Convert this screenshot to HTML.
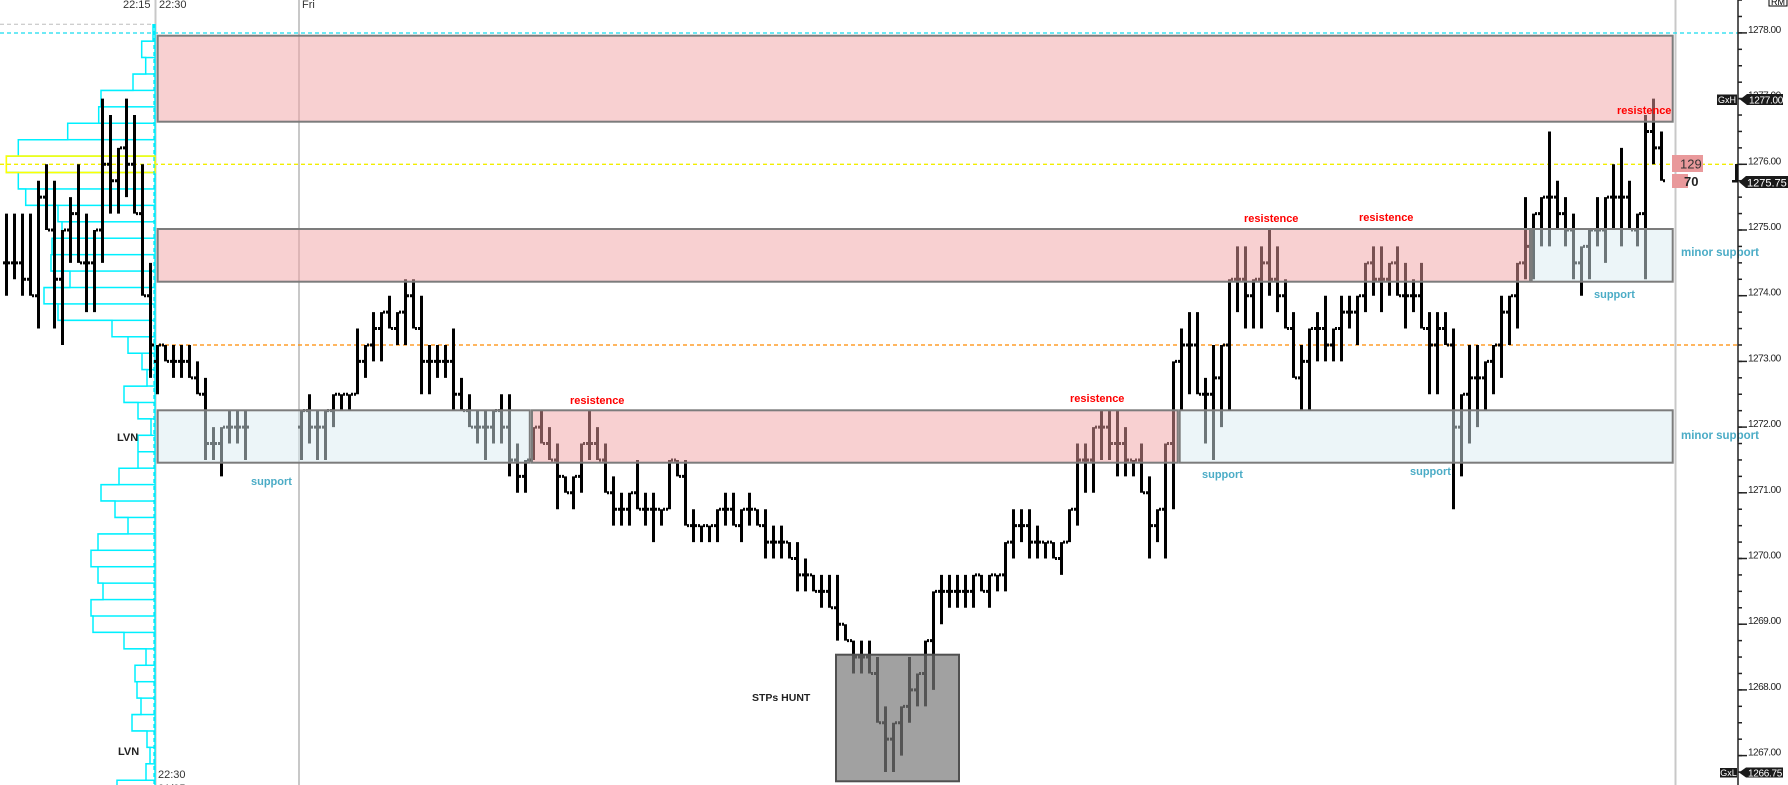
<!DOCTYPE html>
<html><head><meta charset="utf-8"><style>html,body{margin:0;padding:0;background:#fff;overflow:hidden}svg{display:block}</style></head>
<body>
<svg xmlns="http://www.w3.org/2000/svg" width="1788" height="785" viewBox="0 0 1788 785" font-family="'Liberation Sans', sans-serif">
<defs>
<pattern id="rowlines" patternUnits="userSpaceOnUse" x="0" y="23.95" width="200" height="16.425"><rect width="200" height="1.5" fill="#00f0ff"/></pattern>
<pattern id="minort" patternUnits="userSpaceOnUse" x="1738" y="32.15" width="20" height="16.425"><rect width="4" height="1.5" fill="#222"/></pattern>
<pattern id="majort" patternUnits="userSpaceOnUse" x="1738" y="32.15" width="20" height="65.7"><rect width="9" height="1.5" fill="#222"/></pattern>
<marker id="tk" markerUnits="userSpaceOnUse" orient="0" refX="0" refY="0" markerWidth="1" markerHeight="1" style="overflow:visible"><path d="M.1875 0H.4375M.5625 0H.8125" fill="none" stroke="#000" stroke-width=".183"/></marker>
<marker id="tkc" markerUnits="userSpaceOnUse" orient="0" refX="0" refY="0" markerWidth="1" markerHeight="1" style="overflow:visible"><path d="M.1875 0H.4375" fill="none" stroke="#000" stroke-width=".183"/></marker>
<marker id="tko" markerUnits="userSpaceOnUse" orient="0" refX="0" refY="0" markerWidth="1" markerHeight="1" style="overflow:visible"><path d="M.5625 0H.8125" fill="none" stroke="#000" stroke-width=".183"/></marker>
</defs>
<rect width="1788" height="785" fill="#fff"/>
<path d="M155.5 0V785M299 0V785M1675.5 0V785" stroke="#c8c8c8" stroke-width="2"/>
<path d="M0 24.3H152" stroke="#bdbdbd" stroke-width="1" stroke-dasharray="4 3"/>
<path d="M0 33H1738" stroke="#18dcef" stroke-width="1.2" stroke-dasharray="4 3"/>
<path d="M0 164.3H1738" stroke="#f2ee00" stroke-width="1.4" stroke-dasharray="4 3"/>
<path d="M158 345H1738" stroke="#ff8a00" stroke-width="1.2" stroke-dasharray="4 3"/>
<polygon fill="url(#rowlines)" stroke="#00f0ff" stroke-width="1.5" points="155,24.7 153,24.7 153,41.1 141.7,41.1 141.7,57.55 145.7,57.55 145.7,74 133,74 133,90.4 101,90.4 101,106.8 98.7,106.8 98.7,123.3 67.7,123.3 67.7,139.7 18.3,139.7 18.3,156.1 6.3,156.1 6.3,172.5 18.3,172.5 18.3,189 25.7,189 25.7,205.4 58,205.4 58,221.8 62,221.8 62,238.2 52,238.2 52,254.7 51,254.7 51,271.1 70,271.1 70,287.5 44,287.5 44,303.9 58,303.9 58,320.4 112,320.4 112,336.8 128,336.8 128,353.2 142,353.2 142,369.6 147,369.6 147,386.1 124,386.1 124,402.5 138,402.5 138,418.9 151,418.9 151,435.3 138,435.3 138,468.2 119,468.2 119,484.6 101,484.6 101,501 115,501 115,517.45 128,517.45 128,533.9 98,533.9 98,550.3 91,550.3 91,566.7 98,566.7 98,583.15 103,583.15 103,599.6 91,599.6 91,616 93,616 93,632.4 124,632.4 124,648.85 146,648.85 146,665.3 135,665.3 135,681.7 137,681.7 137,698.1 141,698.1 141,714.55 132,714.55 132,731 147,731 147,747.4 150,747.4 150,763.8 146,763.8 146,780.25 117,780.25 117,796.6 155,796.6"/>
<rect x="6.3" y="156.1" width="148.7" height="16.4" fill="none" stroke="#ffff00" stroke-width="1.6"/>
<path d="M154 24V785" stroke="#00e8f8" stroke-width="1.3" stroke-dasharray="4 3"/>
<g transform="translate(6.5 32.9) scale(8 16.425)">
<path fill="none" stroke="#000" stroke-width=".375" d="M0 11V16M1 11V15M2 11V16M3 11V16M4 9V18M5 8V12M6 9V18M7 12V19M8 10V14M9 8V14M10 11V17M11 12V17M12 4V14M13 5V11M14 7V11M15 4V10M16 5V11M17 8V16M18 14V21"/>
<polyline fill="none" stroke="none" marker-start="url(#tko)" marker-mid="url(#tk)" marker-end="url(#tkc)" points="-1,14 0,14 1,14 2,15 3,16 4,10 5,12 6,15 7,12 8,11 9,14 10,14 11,12 12,8 13,9 14,7 15,8 16,11 17,16 18,19"/>
</g>
<g transform="translate(157.5 32.9) scale(8 16.425)">
<path fill="none" stroke="#000" stroke-width=".375" d="M0 19V22M1 19V20M2 19V21M3 19V21M4 19V21M5 20V22M6 21V26M7 24V26M8 24V27M9 23V25M10 23V25M11 23V26M18 23V26M19 22V25M20 23V26M21 23V26M22 22V24M23 22V23M24 22V23M25 18V22M26 19V21M27 17V20M28 17V20M29 16V18M30 17V19M31 15V19M32 15V18M33 16V22M34 19V22M35 19V21M36 19V21M37 18V23M38 21V23M39 22V24M40 23V25M41 23V26M42 23V25M43 22V25M44 22V27M45 25V28M46 26V28M47 24V26M48 23V25M49 24V26M50 25V29M51 27V28M52 27V29M53 25V28M54 23V26M55 24V26M56 25V28M57 27V30M58 28V30M59 28V30M60 26V29M61 28V30M62 28V31M63 29V30M64 26V29M65 26V27M66 26V30M67 29V31M68 30V31M69 30V31M70 29V31M71 28V30M72 28V30M73 29V31M74 28V30M75 29V30M76 29V32M77 30V32M78 30V32M79 31V32M80 31V34M81 32V34M82 33V34M83 33V35M84 33V35M85 33V37M86 36V37M87 37V39M88 37V39M89 37V39M90 38V42M91 41V45M92 42V45M93 41V44M94 38V42M95 39V41M96 37V41M97 34V40M98 33V36M99 33V35M100 33V35M101 33V35M102 33V35M103 33V34M104 33V35M105 33V34M106 31V34M107 29V32M108 29V31M109 29V32M110 30V32M111 31V32M112 31V32M113 31V33M114 29V31M115 25V30M116 25V28M117 24V28M118 23V26M119 23V26M120 23V27M121 24V27M122 26V27M123 25V28M124 27V32M125 29V31M126 25V32M127 20V29M128 18V23M129 17V22M130 17V22M131 21V25M132 19V26M133 19V24M134 15V23M135 13V17M136 13V18M137 15V18M138 13V18M139 12V16M140 13V17M141 15V18M142 17V21M143 19V23M144 18V23M145 17V20M146 16V20M147 18V20M148 16V20M149 16V18M150 16V19M151 14V17M152 13V16M153 13V17M154 14V16M155 13V16M156 14V18M157 15V17M158 14V18M159 17V22M160 17V22M161 17V19M162 18V29M163 22V27M164 19V25M165 19V24M166 20V23M167 19V22M168 16V21M169 16V19M170 14V18M171 10V15M172 11V15M173 10V13M174 6V13M175 9V12M176 10V13M177 11V15M178 13V16M179 12V15M180 10V13M181 10V14M182 8V12M183 7V13M184 9V12M185 11V13M186 5V15M187 4V8M188 6V9"/>
<polyline fill="none" stroke="none" marker-start="url(#tko)" marker-mid="url(#tk)" marker-end="url(#tkc)" points="-1,20 0,19 1,20 2,20 3,20 4,21 5,22 6,25 7,25 8,24 9,24 10,24 11,24"/>
<polyline fill="none" stroke="none" marker-start="url(#tko)" marker-mid="url(#tk)" marker-end="url(#tkc)" points="17,24 18,23 19,24 20,24 21,23 22,22 23,22 24,22 25,20 26,19 27,18 28,17 29,18 30,17 31,16 32,18 33,20 34,20 35,20 36,20 37,22 38,23 39,24 40,24 41,24 42,23 43,24 44,26 45,27 46,26 47,24 48,25 49,26 50,27 51,28 52,27 53,25 54,25 55,26 56,28 57,29 58,29 59,28 60,29 61,29 62,29 63,29 64,26 65,27 66,30 67,30 68,30 69,30 70,29 71,29 72,30 73,29 74,29 75,30 76,31 77,31 78,31 79,32 80,33 81,33 82,34 83,34 84,35 85,36 86,37 87,38 88,38 89,39 90,42 91,43 92,42 93,41 94,40 95,39 96,37 97,34 98,34 99,34 100,34 101,34 102,33 103,34 104,33 105,33 106,31 107,30 108,30 109,31 110,31 111,31 112,32 113,31 114,29 115,26 116,26 117,24 118,24 119,25 120,25 121,26 122,26 123,28 124,30 125,29 126,25 127,20 128,19 129,19 130,22 131,22 132,21 133,19 134,15 135,15 136,16 137,15 138,14 139,15 140,16 141,18 142,21 143,20 144,18 145,18 146,19 147,18 148,17 149,17 150,16 151,14 152,15 153,15 154,14 155,16 156,16 157,16 158,18 159,19 160,18 161,19 162,24 163,22 164,21 165,21 166,20 167,19 168,17 169,16 170,14 171,13 172,11 173,10 174,10 175,11 176,12 177,14 178,13 179,12 180,12 181,10 182,10 183,10 184,12 185,11 186,6 187,7 188,9"/>
</g>
<g stroke="#7c7c7c" stroke-width="2">
<rect x="157.7" y="35.7" width="1515" height="86" fill="rgba(241,161,163,0.5)"/>
<rect x="157.7" y="229" width="1372.3" height="52.7" fill="rgba(241,161,163,0.5)"/>
<rect x="1531.7" y="229" width="141" height="52.7" fill="rgba(217,235,241,0.5)"/>
<rect x="157.7" y="410.3" width="372.1" height="52.4" fill="rgba(217,235,241,0.5)"/>
<rect x="532" y="410.3" width="645.7" height="52.4" fill="rgba(241,161,163,0.5)"/>
<rect x="1179.7" y="410.3" width="493" height="52.4" fill="rgba(217,235,241,0.5)"/>
</g>
<rect x="836" y="654.7" width="123" height="126.6" fill="rgba(121,121,121,0.7)" stroke="#505050" stroke-width="2"/>
<g font-weight="bold" font-size="11" fill="#ff0000">
<text x="570" y="404">resistence</text>
<text x="1070" y="402">resistence</text>
<text x="1244" y="222">resistence</text>
<text x="1359" y="221">resistence</text>
<text x="1617" y="114">resistence</text>
</g>
<g font-weight="bold" font-size="11" fill="#4bacc6">
<text x="251" y="485">support</text>
<text x="1202" y="478">support</text>
<text x="1410" y="475">support</text>
<text x="1594" y="298">support</text>
<text x="1681" y="256" font-size="11.5">minor support</text>
<text x="1681" y="439" font-size="11.5">minor support</text>
</g>
<g font-weight="bold" font-size="11" fill="#222">
<text x="117" y="441">LVN</text>
<text x="118" y="755">LVN</text>
<text x="752" y="701" font-size="10.5">STPs HUNT</text>
</g>
<g font-size="11" fill="#333">
<text x="123" y="8.2">22:15</text>
<text x="159" y="8.2">22:30</text>
<text x="302" y="8.2">Fri</text>
<text x="158" y="778">22:30</text>
<text x="158" y="792">01/05</text>
</g>
<rect x="1672" y="155" width="31" height="17" fill="#e9999b"/>
<rect x="1672" y="174" width="16" height="14" fill="#e9999b"/>
<text x="1680" y="168.5" font-size="13" fill="#333">129</text>
<text x="1684" y="186" font-size="13" font-weight="bold" fill="#222">70</text>
<path d="M1738 0V785" stroke="#222" stroke-width="1.5"/>
<rect x="1738" y="0" width="4" height="785" fill="url(#minort)"/>
<rect x="1738" y="0" width="9" height="785" fill="url(#majort)"/>
<g font-size="10" fill="#222" letter-spacing="-0.5">
<text x="1748" y="32.9">1278.00</text>
<text x="1748" y="98.6">1277.00</text>
<text x="1748" y="164.3">1276.00</text>
<text x="1748" y="230">1275.00</text>
<text x="1748" y="295.7">1274.00</text>
<text x="1748" y="361.4">1273.00</text>
<text x="1748" y="427.1">1272.00</text>
<text x="1748" y="492.8">1271.00</text>
<text x="1748" y="558.5">1270.00</text>
<text x="1748" y="624.2">1269.00</text>
<text x="1748" y="689.9">1268.00</text>
<text x="1748" y="755.6">1267.00</text>
</g>
<rect x="1717" y="94.5" width="20" height="10.5" fill="#1a1a1a"/>
<text x="1727" y="103" font-size="9" fill="#fff" text-anchor="middle">GxH</text>
<polygon points="1740,99.5 1747,94 1783,94 1783,105 1747,105" fill="#1a1a1a"/>
<text x="1749" y="103.5" font-size="10" fill="#fff" letter-spacing="-0.3">1277.00</text>
<rect x="1735" y="164" width="3" height="18" fill="#111"/>
<rect x="1732" y="180" width="6" height="2.5" fill="#111"/>
<polygon points="1739,182 1746,176 1788,176 1788,188 1746,188" fill="#1a1a1a"/>
<text x="1747" y="186.5" font-size="11" fill="#fff">1275.75</text>
<rect x="1720" y="768" width="17" height="9.5" fill="#1a1a1a"/>
<text x="1728.5" y="776" font-size="9" fill="#fff" text-anchor="middle">GxL</text>
<polygon points="1739,772.5 1746,767.5 1783,767.5 1783,777.5 1746,777.5" fill="#1a1a1a"/>
<text x="1748" y="776.3" font-size="10" fill="#fff" letter-spacing="-0.3">1266.75</text>
<rect x="1769" y="-5" width="18" height="11" fill="#fff" stroke="#000" stroke-width="1"/>
<text x="1771" y="5" font-size="9" fill="#000">RM</text>
</svg>
</body></html>
